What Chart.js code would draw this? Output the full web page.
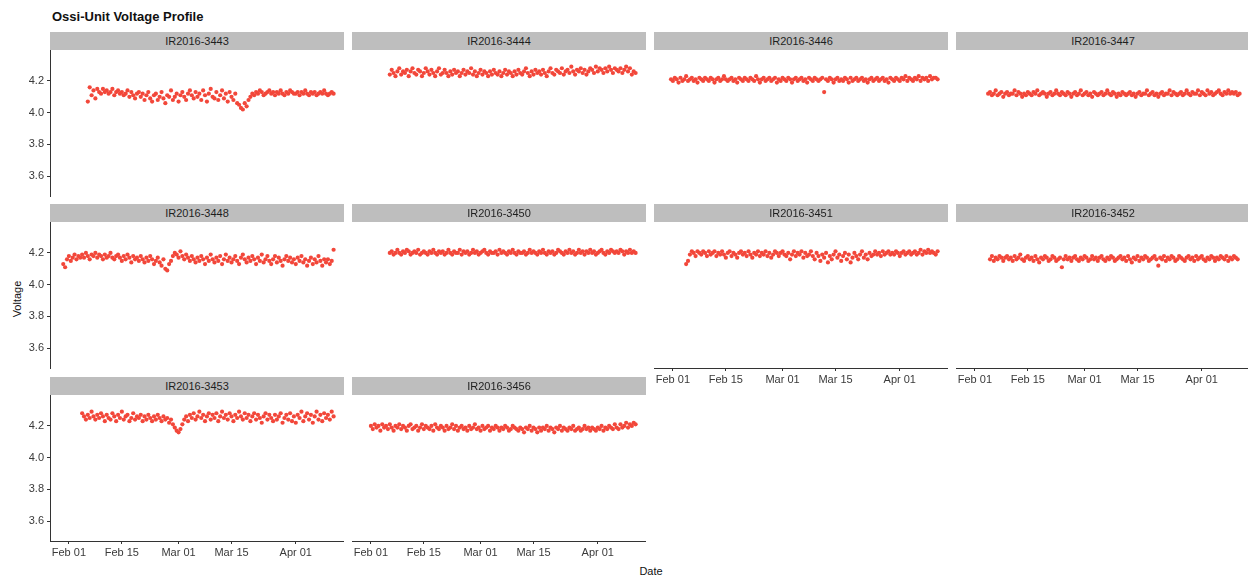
<!DOCTYPE html>
<html><head><meta charset="utf-8">
<script src="https://cdn.jsdelivr.net/npm/chart.js@4.4.1/dist/chart.umd.min.js"></script>
<style>
body{margin:0;width:1248px;height:578px;background:#fff;position:relative;overflow:hidden;font-family:"Liberation Sans",Arial,sans-serif;}
.strip{position:absolute;background:#bebebe;color:#1e1e1e;font-size:11px;text-align:center;line-height:18px;height:18px;z-index:2;white-space:nowrap;overflow:hidden;}
canvas{position:absolute;z-index:1;}
#title{position:absolute;left:52px;top:9px;font-weight:bold;font-size:13px;color:#111;}
#ylab{position:absolute;left:-5px;top:293px;width:44px;text-align:center;font-size:11px;color:#111;transform:rotate(-90deg);}
#xlab{position:absolute;left:626px;top:565px;width:50px;text-align:center;font-size:11px;color:#111;}
</style></head>
<body>
<div id="title">Ossi-Unit Voltage Profile</div>
<div id="ylab">Voltage</div>
<div id="xlab">Date</div>
<script>
const units = ['IR2016-3443','IR2016-3444','IR2016-3446','IR2016-3447','IR2016-3448','IR2016-3450','IR2016-3451','IR2016-3452','IR2016-3453','IR2016-3456'];
// first reading, in days after Feb 01 2016; readings every half day
const startDays = [5, 5, -0.5, 3.5, -1.5, 5, 3.5, 4, 3.5, 0];
const stepDays = 0.5;
const dateTicks = [0, 14, 29, 43, 60];
const dateLabels = ['Feb 01','Feb 15','Mar 01','Mar 15','Apr 01'];
const voltTicks = [3.6, 3.8, 4.0, 4.2];

const v3443 = [4.07,4.16,4.11,4.14,4.09,4.15,4.13,4.12,4.15,4.13,
4.14,4.12,4.13,4.15,4.11,4.13,4.14,4.12,4.13,4.11,
4.12,4.14,4.10,4.13,4.11,4.09,4.12,4.13,4.10,4.12,
4.08,4.11,4.13,4.09,4.07,4.11,4.12,4.08,4.10,4.13,
4.09,4.06,4.11,4.10,4.14,4.08,4.10,4.12,4.07,4.11,
4.13,4.10,4.08,4.12,4.14,4.11,4.09,4.13,4.10,4.12,
4.08,4.14,4.11,4.07,4.12,4.15,4.10,4.09,4.13,4.08,
4.11,4.14,4.09,4.12,4.07,4.13,4.10,4.08,4.12,4.06,
4.05,4.03,4.02,4.06,4.04,4.08,4.10,4.12,4.11,4.13,
4.12,4.14,4.13,4.11,4.12,4.13,4.14,4.12,4.13,4.11,
4.13,4.12,4.14,4.12,4.11,4.13,4.12,4.14,4.13,4.12,
4.12,4.13,4.11,4.13,4.12,4.14,4.12,4.11,4.13,4.12,
4.13,4.11,4.12,4.13,4.12,4.14,4.12,4.11,4.12,4.13,4.12];
const v3444 = [4.24,4.27,4.25,4.23,4.26,4.28,4.24,4.26,4.25,4.27,
4.23,4.26,4.28,4.25,4.24,4.27,4.26,4.23,4.25,4.28,
4.26,4.24,4.27,4.25,4.23,4.26,4.28,4.24,4.25,4.27,
4.25,4.23,4.26,4.24,4.27,4.25,4.26,4.23,4.25,4.27,
4.24,4.26,4.25,4.28,4.24,4.26,4.23,4.25,4.27,4.24,
4.26,4.25,4.23,4.26,4.24,4.27,4.25,4.24,4.26,4.23,
4.25,4.27,4.24,4.26,4.25,4.23,4.26,4.24,4.27,4.25,
4.24,4.26,4.28,4.25,4.23,4.26,4.24,4.27,4.25,4.26,
4.24,4.27,4.25,4.23,4.26,4.28,4.25,4.24,4.27,4.26,
4.25,4.28,4.24,4.26,4.27,4.25,4.29,4.26,4.24,4.27,
4.26,4.28,4.25,4.27,4.24,4.26,4.28,4.27,4.25,4.29,
4.26,4.28,4.27,4.25,4.28,4.26,4.29,4.27,4.25,4.28,
4.27,4.26,4.28,4.25,4.27,4.29,4.26,4.28,4.24,4.26,4.25];
const v3446 = [4.21,4.20,4.22,4.21,4.19,4.22,4.20,4.21,4.23,4.20,
4.21,4.22,4.20,4.21,4.19,4.22,4.21,4.20,4.22,4.21,
4.20,4.22,4.21,4.19,4.21,4.22,4.20,4.21,4.23,4.21,
4.20,4.21,4.22,4.20,4.21,4.19,4.22,4.21,4.20,4.22,
4.21,4.20,4.22,4.21,4.20,4.23,4.21,4.19,4.21,4.22,
4.20,4.21,4.22,4.20,4.21,4.22,4.19,4.21,4.20,4.22,
4.21,4.20,4.22,4.21,4.19,4.21,4.22,4.20,4.21,4.22,
4.20,4.21,4.19,4.22,4.21,4.20,4.22,4.21,4.20,4.21,
4.22,4.13,4.21,4.20,4.22,4.21,4.19,4.21,4.22,4.20,
4.21,4.20,4.22,4.21,4.19,4.22,4.20,4.21,4.22,4.20,
4.21,4.22,4.20,4.21,4.19,4.21,4.22,4.20,4.21,4.22,
4.20,4.21,4.22,4.20,4.21,4.19,4.22,4.21,4.20,4.22,
4.21,4.20,4.22,4.21,4.23,4.20,4.22,4.21,4.20,4.22,
4.21,4.23,4.20,4.22,4.21,4.22,4.20,4.23,4.21,4.22,
4.22,4.21];
const v3447 = [4.12,4.13,4.11,4.12,4.14,4.11,4.12,4.13,4.10,4.12,
4.13,4.11,4.12,4.12,4.14,4.11,4.13,4.12,4.10,4.12,
4.11,4.13,4.12,4.11,4.13,4.12,4.14,4.11,4.12,4.13,
4.12,4.10,4.12,4.13,4.11,4.12,4.14,4.12,4.11,4.13,
4.12,4.11,4.13,4.12,4.10,4.12,4.13,4.11,4.12,4.14,
4.11,4.12,4.13,4.11,4.12,4.10,4.13,4.12,4.11,4.12,
4.13,4.11,4.12,4.14,4.12,4.11,4.13,4.12,4.10,4.12,
4.11,4.13,4.12,4.11,4.12,4.13,4.11,4.12,4.10,4.12,
4.13,4.11,4.12,4.12,4.14,4.11,4.12,4.13,4.11,4.12,
4.10,4.12,4.13,4.11,4.12,4.12,4.14,4.11,4.13,4.12,
4.11,4.12,4.13,4.11,4.12,4.14,4.12,4.11,4.13,4.12,
4.12,4.14,4.11,4.13,4.12,4.11,4.14,4.12,4.13,4.11,
4.12,4.13,4.14,4.12,4.11,4.13,4.12,4.14,4.12,4.13,
4.12,4.13,4.11,4.12];
const v3448 = [4.13,4.11,4.16,4.18,4.15,4.17,4.19,4.16,4.18,4.17,
4.19,4.17,4.20,4.18,4.16,4.19,4.18,4.20,4.17,4.19,
4.18,4.16,4.19,4.17,4.18,4.20,4.17,4.16,4.18,4.19,
4.17,4.15,4.18,4.16,4.19,4.17,4.14,4.18,4.16,4.17,
4.15,4.18,4.16,4.14,4.17,4.15,4.18,4.16,4.13,4.15,
4.17,4.14,4.12,4.16,4.10,4.09,4.13,4.15,4.18,4.20,
4.19,4.17,4.21,4.18,4.16,4.19,4.17,4.15,4.18,4.16,
4.14,4.17,4.15,4.18,4.16,4.13,4.17,4.15,4.19,4.16,
4.14,4.17,4.15,4.18,4.13,4.16,4.19,4.15,4.17,4.14,
4.16,4.18,4.15,4.13,4.17,4.19,4.16,4.14,4.17,4.15,
4.18,4.16,4.13,4.17,4.15,4.19,4.14,4.16,4.18,4.15,
4.13,4.16,4.18,4.14,4.17,4.15,4.12,4.16,4.18,4.15,
4.17,4.14,4.16,4.13,4.17,4.15,4.18,4.14,4.16,4.12,
4.15,4.17,4.13,4.16,4.14,4.18,4.15,4.12,4.16,4.14,
4.16,4.13,4.15,4.22];
const v3450 = [4.20,4.21,4.19,4.20,4.22,4.20,4.19,4.21,4.20,4.22,
4.21,4.19,4.20,4.21,4.20,4.22,4.19,4.20,4.21,4.20,
4.19,4.21,4.20,4.22,4.20,4.19,4.21,4.20,4.21,4.19,
4.20,4.22,4.20,4.19,4.21,4.20,4.20,4.22,4.19,4.21,
4.20,4.21,4.19,4.20,4.22,4.20,4.21,4.19,4.20,4.21,
4.22,4.20,4.19,4.21,4.20,4.20,4.21,4.19,4.22,4.20,
4.21,4.20,4.19,4.21,4.20,4.22,4.20,4.19,4.21,4.20,
4.20,4.21,4.19,4.20,4.22,4.20,4.21,4.20,4.19,4.21,
4.20,4.22,4.20,4.19,4.21,4.20,4.21,4.19,4.20,4.22,
4.21,4.20,4.19,4.21,4.20,4.22,4.20,4.21,4.19,4.20,
4.22,4.20,4.21,4.19,4.21,4.20,4.22,4.20,4.21,4.19,
4.20,4.21,4.22,4.20,4.19,4.21,4.20,4.22,4.21,4.20,
4.21,4.20,4.22,4.21,4.19,4.21,4.20,4.22,4.20,4.21,4.20];
const v3451 = [4.13,4.15,4.19,4.21,4.20,4.18,4.21,4.20,4.19,4.21,
4.20,4.18,4.21,4.19,4.20,4.21,4.18,4.20,4.19,4.21,
4.19,4.17,4.20,4.21,4.18,4.20,4.19,4.17,4.20,4.21,
4.19,4.20,4.18,4.21,4.19,4.17,4.20,4.19,4.21,4.18,
4.20,4.19,4.21,4.18,4.20,4.17,4.19,4.21,4.20,4.18,
4.20,4.21,4.19,4.18,4.20,4.16,4.19,4.21,4.18,4.20,
4.19,4.21,4.17,4.20,4.18,4.19,4.21,4.18,4.16,4.20,
4.18,4.15,4.19,4.17,4.20,4.14,4.18,4.16,4.19,4.21,
4.17,4.19,4.15,4.18,4.20,4.16,4.19,4.14,4.17,4.20,
4.18,4.16,4.19,4.21,4.17,4.19,4.16,4.20,4.18,4.19,
4.21,4.19,4.20,4.18,4.21,4.19,4.20,4.21,4.19,4.20,
4.19,4.21,4.20,4.18,4.20,4.21,4.19,4.20,4.21,4.19,
4.20,4.21,4.19,4.20,4.22,4.19,4.21,4.20,4.22,4.20,
4.21,4.20,4.19,4.21];
const v3452 = [4.16,4.18,4.15,4.17,4.16,4.18,4.17,4.15,4.17,4.18,
4.16,4.17,4.15,4.18,4.16,4.17,4.19,4.16,4.15,4.17,
4.18,4.16,4.17,4.15,4.18,4.16,4.14,4.17,4.16,4.18,
4.17,4.15,4.16,4.18,4.17,4.15,4.16,4.17,4.11,4.16,
4.18,4.16,4.17,4.15,4.17,4.18,4.16,4.15,4.17,4.16,
4.18,4.17,4.15,4.16,4.18,4.16,4.17,4.15,4.17,4.18,
4.16,4.15,4.17,4.16,4.18,4.17,4.15,4.16,4.17,4.18,
4.16,4.17,4.15,4.18,4.16,4.14,4.17,4.16,4.18,4.15,
4.17,4.16,4.18,4.17,4.15,4.16,4.17,4.18,4.16,4.12,
4.17,4.16,4.18,4.15,4.17,4.16,4.18,4.17,4.15,4.16,
4.18,4.17,4.16,4.15,4.17,4.18,4.16,4.17,4.15,4.18,
4.16,4.17,4.18,4.16,4.15,4.17,4.16,4.18,4.17,4.15,
4.17,4.16,4.18,4.17,4.16,4.18,4.15,4.17,4.16,4.18,
4.17,4.16];
const v3453 = [4.28,4.26,4.24,4.27,4.25,4.29,4.26,4.24,4.27,4.25,
4.28,4.26,4.23,4.27,4.25,4.24,4.28,4.26,4.23,4.27,
4.25,4.29,4.24,4.26,4.27,4.23,4.25,4.28,4.24,4.26,
4.25,4.27,4.23,4.26,4.24,4.27,4.25,4.23,4.26,4.24,
4.27,4.25,4.23,4.26,4.24,4.25,4.22,4.24,4.21,4.19,
4.17,4.16,4.18,4.21,4.24,4.26,4.23,4.27,4.25,4.28,
4.24,4.26,4.29,4.25,4.27,4.23,4.26,4.28,4.24,4.27,
4.25,4.28,4.23,4.26,4.29,4.25,4.27,4.24,4.28,4.26,
4.23,4.27,4.25,4.29,4.26,4.24,4.28,4.25,4.27,4.23,
4.26,4.28,4.24,4.27,4.25,4.22,4.26,4.28,4.24,4.27,
4.25,4.23,4.27,4.24,4.26,4.28,4.22,4.25,4.27,4.24,
4.28,4.23,4.26,4.22,4.27,4.25,4.29,4.23,4.26,4.28,
4.24,4.27,4.22,4.26,4.29,4.24,4.27,4.23,4.28,4.25,
4.27,4.24,4.29,4.26];
const v3456 = [4.20,4.18,4.21,4.19,4.20,4.17,4.21,4.19,4.20,4.18,
4.21,4.19,4.17,4.20,4.19,4.21,4.18,4.20,4.19,4.17,
4.20,4.21,4.18,4.19,4.20,4.17,4.19,4.21,4.18,4.20,
4.19,4.18,4.20,4.17,4.21,4.19,4.18,4.20,4.19,4.17,
4.20,4.18,4.19,4.21,4.18,4.20,4.17,4.19,4.20,4.18,
4.19,4.17,4.20,4.18,4.19,4.21,4.18,4.19,4.17,4.20,
4.18,4.19,4.20,4.17,4.19,4.18,4.20,4.19,4.17,4.19,
4.18,4.20,4.19,4.17,4.18,4.20,4.19,4.18,4.17,4.19,
4.18,4.16,4.19,4.18,4.20,4.17,4.19,4.18,4.16,4.19,
4.17,4.19,4.18,4.20,4.17,4.19,4.18,4.16,4.19,4.18,
4.20,4.17,4.19,4.18,4.17,4.19,4.18,4.20,4.17,4.18,
4.19,4.17,4.18,4.20,4.18,4.19,4.17,4.19,4.18,4.17,
4.19,4.18,4.20,4.17,4.19,4.18,4.20,4.19,4.18,4.21,
4.19,4.18,4.21,4.19,4.20,4.22,4.19,4.21,4.20,4.22,
4.21];
const voltages = [v3443, v3444, v3446, v3447, v3448, v3450, v3451, v3452, v3453, v3456];

// layout
const colLeft = [50, 352, 654, 956];
const rowTop = [32, 204, 377];
const stripH = 18, plotW = 294, plotH = 146, yAxW = 40, xAxH = 26;
const RED = '#F2473A', AXC = '#333333', TXC = '#3a3a3a';
const tickFont = {family: '"Liberation Sans", Arial, sans-serif', size: 11};

units.forEach((name, k) => {
  const row = Math.floor(k / 4), col = k % 4;
  const left = colLeft[col], top = rowTop[row];
  const showY = col === 0;
  const showX = row === 2 || (row === 1 && col >= 2);

  const strip = document.createElement('div');
  strip.className = 'strip';
  strip.style.left = left + 'px';
  strip.style.top = top + 'px';
  strip.style.width = plotW + 'px';
  strip.textContent = name;
  document.body.appendChild(strip);

  const cv = document.createElement('canvas');
  cv.width = plotW + yAxW; cv.height = plotH + xAxH;
  cv.style.left = (left - yAxW) + 'px';
  cv.style.top = (top + stripH) + 'px';
  cv.style.width = cv.width + 'px'; cv.style.height = cv.height + 'px';
  document.body.appendChild(cv);

  const pts = voltages[k].map((v, i) => ({x: startDays[k] + i * stepDays, y: v}));

  new Chart(cv, {
    type: 'scatter',
    data: {datasets: [{data: pts, backgroundColor: RED, borderWidth: 0, pointRadius: 2.1, pointHoverRadius: 2.1}]},
    options: {
      responsive: false, animation: false, events: [],
      layout: {padding: 0, autoPadding: false},
      plugins: {legend: {display: false}, tooltip: {enabled: false}, title: {display: false}},
      scales: {
        x: {
          type: 'linear', min: -5, max: 72.75,
          afterBuildTicks: s => { s.ticks = dateTicks.map(v => ({value: v})); },
          afterFit: s => { s.height = xAxH; s.paddingLeft = 0; s.paddingRight = 0; s.paddingTop = 0; s.paddingBottom = 0; },
          grid: {display: showX, drawOnChartArea: false, drawTicks: true, tickLength: 3, color: AXC, tickColor: AXC},
          border: {display: showX, color: AXC, width: 1},
          ticks: {display: showX, autoSkip: false, maxRotation: 0, minRotation: 0, padding: 2, color: TXC, font: tickFont,
                  callback: v => dateLabels[dateTicks.indexOf(v)]}
        },
        y: {
          type: 'linear', min: 3.475, max: 4.395,
          afterBuildTicks: s => { s.ticks = voltTicks.map(v => ({value: v})); },
          afterFit: s => { s.width = yAxW; s.paddingLeft = 0; s.paddingRight = 0; s.paddingTop = 0; s.paddingBottom = 0; },
          grid: {display: showY, drawOnChartArea: false, drawTicks: true, tickLength: 3, color: AXC, tickColor: AXC},
          border: {display: showY, color: AXC, width: 1},
          ticks: {display: showY, padding: 3, color: TXC, font: tickFont, callback: v => v.toFixed(1)}
        }
      }
    }
  });
});
</script>
</body></html>
